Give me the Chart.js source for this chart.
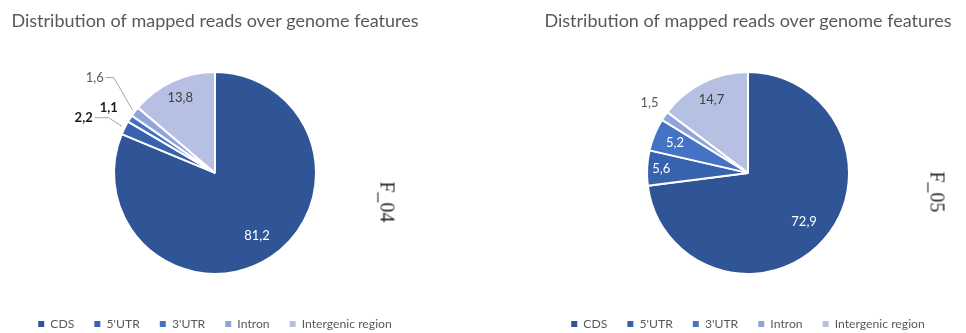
<!DOCTYPE html>
<html>
<head>
<meta charset="utf-8">
<script src="https://cdn.jsdelivr.net/npm/chart.js@4/dist/chart.umd.min.js"></script>
<style>
  html, body { margin: 0; padding: 0; background: #fff; overflow: hidden; }
  body { position: relative; width: 966px; height: 333px; }
  .panel { position: absolute; top: 0; width: 430px; height: 340px; }
  .sample {
    position: absolute;
    font-family: "Liberation Serif", "Times New Roman", serif;
    font-size: 20px;
    color: #262626;
    transform: translate(-50%, -50%) rotate(90deg);
    white-space: nowrap;
  }
</style>
</head>
<body>
<div class="panel" style="left:0"><canvas id="c1"></canvas></div>
<div class="panel" style="left:533px"><canvas id="c2"></canvas></div>
<div class="sample" id="s1" style="left:387px; top:202px"></div>
<div class="sample" id="s2" style="left:937px; top:192px"></div>
<script>
// Feature categories and per-sample read shares (%)
const categories = ['CDS', "5'UTR", "3'UTR", 'Intron', 'Intergenic region'];
const f04Values = [81.2, 2.2, 1.1, 1.6, 13.8];
const f05Values = [72.9, 5.6, 5.2, 1.5, 14.7];
const sampleNames = ['F_04', 'F_05'];
const chartTitle = 'Distribution of mapped reads over genome features';

const sliceColors = ['#2f5597', '#3762ad', '#4472c4', '#8fa4d9', '#b5c0e2'];

document.getElementById('s1').textContent = sampleNames[0];
document.getElementById('s2').textContent = sampleNames[1];

// Value labels: inside labels sit at a fraction of the radius, outside labels
// are offset from the slice's outer edge, optionally with a leader line.
const sliceLabels = {
  id: 'sliceLabels',
  afterDatasetsDraw(chart, args, opts) {
    const ctx = chart.ctx;
    const meta = chart.getDatasetMeta(0);
    const values = chart.data.datasets[0].data;
    meta.data.forEach((arc, i) => {
      const spec = opts.items[i];
      const mid = (arc.startAngle + arc.endAngle) / 2;
      const cos = Math.cos(mid), sin = Math.sin(mid);
      const text = values[i].toFixed(1).replace('.', ',');
      ctx.save();
      ctx.font = (spec.weight || 'normal') + ' ' + opts.size + 'px ' + opts.family;
      ctx.textAlign = 'center';
      ctx.textBaseline = 'middle';
      let tx, ty;
      if (spec.inside != null) {
        tx = arc.x + cos * arc.outerRadius * spec.inside;
        ty = arc.y + sin * arc.outerRadius * spec.inside;
      } else {
        const ex = arc.x + cos * arc.outerRadius;
        const ey = arc.y + sin * arc.outerRadius;
        tx = ex + spec.dx;
        ty = ey + spec.dy;
        if (spec.leader) {
          const w = ctx.measureText(text).width;
          const sx = tx + w / 2 + 2;
          ctx.strokeStyle = '#a6a6a6';
          ctx.lineWidth = 1;
          ctx.beginPath();
          ctx.moveTo(sx, ty);
          ctx.lineTo(sx + spec.leader, ty);
          ctx.lineTo(ex + cos * 3, ey + sin * 3);
          ctx.stroke();
        }
      }
      ctx.fillStyle = spec.color;
      ctx.fillText(text, tx, ty);
      ctx.restore();
    });
  }
};

function makePie(id, values, labelItems) {
  return new Chart(document.getElementById(id), {
    type: 'pie',
    data: {
      labels: categories,
      datasets: [{
        data: values,
        backgroundColor: sliceColors,
        borderColor: '#ffffff',
        borderWidth: 2,
        radius: 101,
        hoverOffset: 0
      }]
    },
    options: {
      responsive: true,
      maintainAspectRatio: false,
      animation: false,
      events: [],
      layout: { padding: 0 },
      plugins: {
        title: {
          display: true,
          text: chartTitle,
          color: '#595959',
          font: { family: 'Lato', size: 18, weight: 'normal', lineHeight: 1.2 },
          padding: { top: 10.2, bottom: 16.2 }
        },
        legend: {
          position: 'bottom',
          labels: {
            color: '#595959',
            font: { family: 'Lato', size: 12.2 },
            usePointStyle: true,
            pointStyle: 'rect',
            boxWidth: 6,
            boxHeight: 6,
            padding: 20,
            generateLabels(chart) {
              const items = Chart.overrides.pie.plugins.legend.labels.generateLabels(chart);
              items.forEach(it => { it.lineWidth = 0; it.strokeStyle = it.fillStyle; });
              return items;
            }
          }
        },
        tooltip: { enabled: false },
        sliceLabels: { family: 'Lato', size: 13, items: labelItems }
      }
    },
    plugins: [sliceLabels]
  });
}

makePie('c1', f04Values, [
  { inside: 0.75, color: '#ffffff' },
  { dx: -41, dy: -10, color: '#1a1a1a', weight: 'bold', leader: 14 },
  { dx: -21, dy: -11, color: '#1a1a1a', weight: 'bold' },
  { dx: -40, dy: -34, color: '#595959', leader: 8 },
  { inside: 0.82, color: '#404040' }
]);

makePie('c2', f05Values, [
  { inside: 0.74, color: '#ffffff' },
  { inside: 0.86, color: '#ffffff' },
  { inside: 0.78, color: '#ffffff' },
  { dx: -15, dy: -13, color: '#595959' },
  { inside: 0.81, color: '#404040' }
]);
</script>
</body>
</html>
